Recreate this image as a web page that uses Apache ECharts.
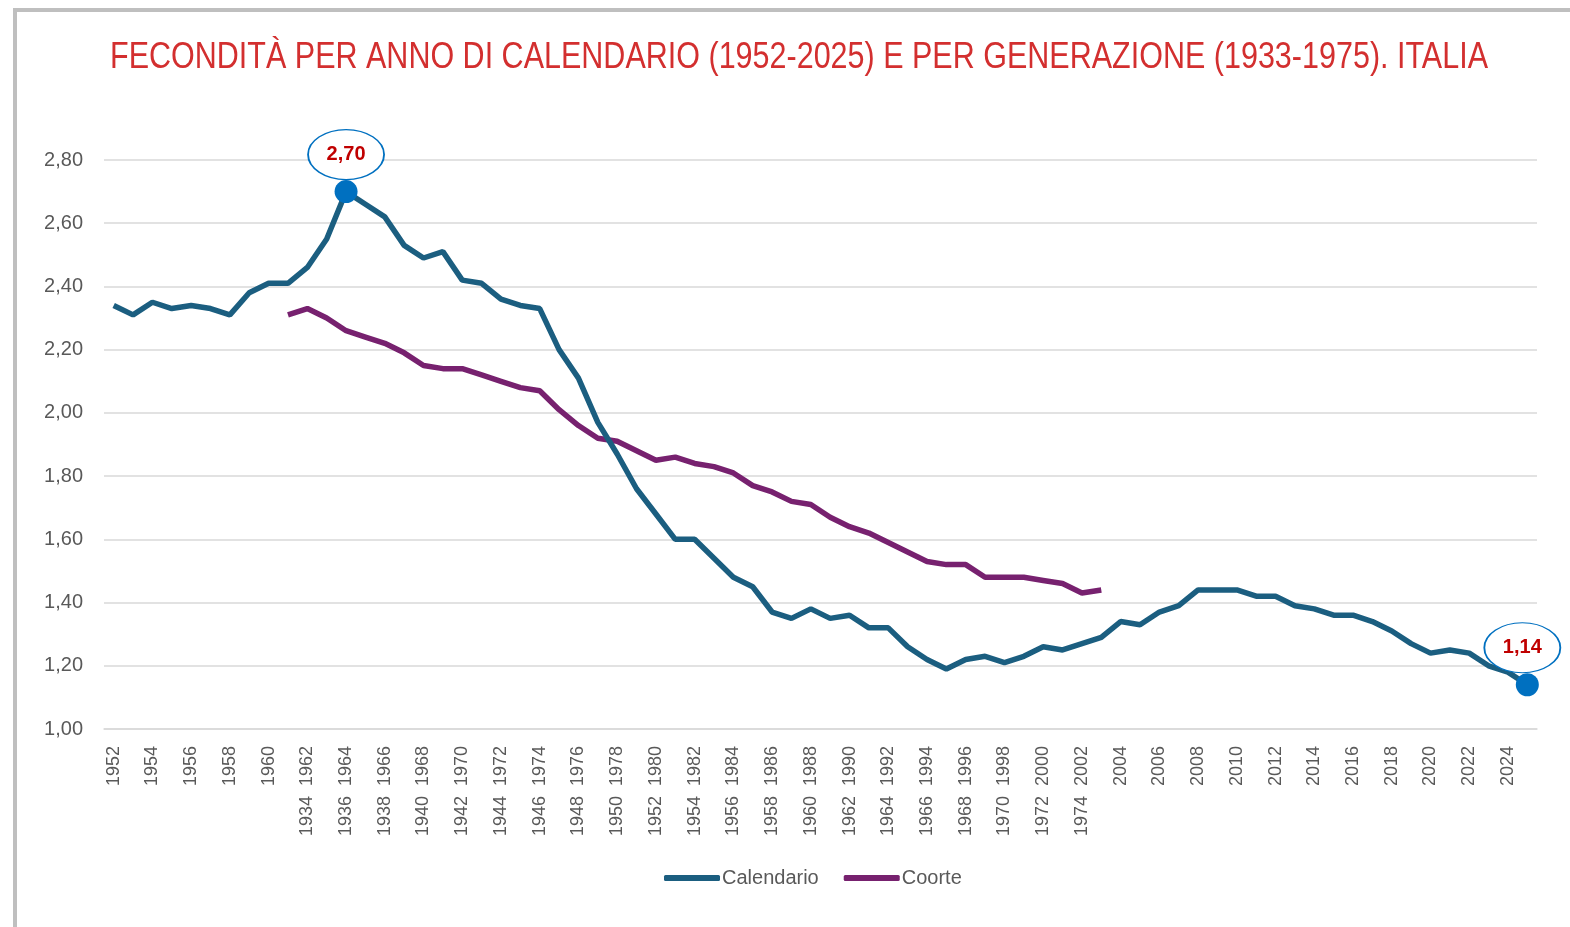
<!DOCTYPE html>
<html>
<head>
<meta charset="utf-8">
<script src="https://cdn.jsdelivr.net/npm/echarts@6/dist/echarts.min.js"></script>
<style>
  html, body { margin: 0; padding: 0; background: #fff; overflow: hidden; }
  #frame { position: absolute; left: 13px; top: 8px; width: 1600px; height: 960px; border: 4px solid #bfbfbf; box-sizing: border-box; }
  #chart { position: absolute; left: 0; top: 0; width: 1570px; height: 927px; }
</style>
</head>
<body>
<div id="frame"></div>
<div id="chart"></div>
<script>
// anni di calendario (asse x)
var years = [1952,1953,1954,1955,1956,1957,1958,1959,1960,1961,1962,1963,1964,1965,1966,1967,1968,1969,1970,1971,
    1972,1973,1974,1975,1976,1977,1978,1979,1980,1981,1982,1983,1984,1985,1986,1987,1988,1989,1990,1991,
    1992,1993,1994,1995,1996,1997,1998,1999,2000,2001,2002,2003,2004,2005,2006,2007,2008,2009,2010,2011,
    2012,2013,2014,2015,2016,2017,2018,2019,2020,2021,2022,2023,2024,2025];
var calendario = [2.34,2.31,2.35,2.33,2.34,2.33,2.31,2.38,2.41,2.41,2.46,2.55,2.70,2.66,2.62,2.53,2.49,2.51,2.42,2.41,
    2.36,2.34,2.33,2.20,2.11,1.97,1.87,1.76,1.68,1.60,1.60,1.54,1.48,1.45,1.37,1.35,1.38,1.35,1.36,1.32,
    1.32,1.26,1.22,1.19,1.22,1.23,1.21,1.23,1.26,1.25,1.27,1.29,1.34,1.33,1.37,1.39,1.44,1.44,1.44,1.42,
    1.42,1.39,1.38,1.36,1.36,1.34,1.31,1.27,1.24,1.25,1.24,1.20,1.18,1.14];
// generazioni 1933-1975, disegnate a partire dalla categoria 1961
var generazioni = [1933,1934,1935,1936,1937,1938,1939,1940,1941,1942,1943,1944,1945,1946,1947,1948,1949,1950,1951,1952,
    1953,1954,1955,1956,1957,1958,1959,1960,1961,1962,1963,1964,1965,1966,1967,1968,1969,1970,1971,1972,
    1973,1974,1975];
var coorte = [2.31,2.33,2.30,2.26,2.24,2.22,2.19,2.15,2.14,2.14,2.12,2.10,2.08,2.07,2.01,1.96,1.92,1.91,1.88,1.85,
    1.86,1.84,1.83,1.81,1.77,1.75,1.72,1.71,1.67,1.64,1.62,1.59,1.56,1.53,1.52,1.52,1.48,1.48,1.48,1.47,
    1.46,1.43,1.44];
var coorteStart = 9; // indice di 1961

var font = "'Liberation Sans',Arial,sans-serif";
var grigio = '#595959';
var titolo = 'FECONDITÀ PER ANNO DI CALENDARIO (1952-2025) E PER GENERAZIONE (1933-1975). ITALIA';

var coorteData = [];
var cohortLabel = {};
for (var i = 0; i < years.length; i++) {
    var k = i - coorteStart;
    coorteData.push(k >= 0 && k < coorte.length ? coorte[k] : null);
    if (k >= 0 && k < generazioni.length) cohortLabel[i] = generazioni[k];
}

// titolo stretto come un carattere "narrow"
var ctx = document.createElement('canvas').getContext('2d');
ctx.font = '37px ' + font;
var scalaTitolo = 1378 / ctx.measureText(titolo).width;

// punti evidenziati: massimo e ultimo anno
var iMax = calendario.indexOf(Math.max.apply(null, calendario));
var iLast = calendario.length - 1;
function fmt(v) { return v.toFixed(2).replace('.', ','); }
function evidenzia(idx, dx) {
    return [{
        coord: [idx, calendario[idx]],
        symbol: 'circle', symbolSize: 23,
        itemStyle: { color: '#0070c0', borderWidth: 0 },
        label: { show: false }
    }, {
        coord: [idx, calendario[idx]],
        symbol: 'circle', symbolSize: [76, 50], symbolOffset: [dx, -37],
        itemStyle: { color: '#ffffff', borderColor: '#0070c0', borderWidth: 1.5 },
        label: {
            show: true, position: 'inside',
            formatter: fmt(calendario[idx]),
            color: '#c00000', fontWeight: 'bold', fontSize: 20, fontFamily: font
        }
    }];
}

var myChart = echarts.init(document.getElementById('chart'));
var option = {
    animation: false,
    backgroundColor: 'transparent',
    graphic: [{
        type: 'text',
        x: 799, y: 58,
        scaleX: scalaTitolo,
        style: {
            text: titolo,
            fill: '#d32f2f', font: '37px ' + font,
            textAlign: 'center', textVerticalAlign: 'middle'
        }
    }],
    legend: {
        bottom: 34, left: 659,
        itemWidth: 56, itemHeight: 6, itemGap: 25,
        icon: 'roundRect',
        textStyle: { color: grigio, fontSize: 20, fontFamily: font, padding: [0, 0, 0, -3] },
        data: ['Calendario', 'Coorte']
    },
    grid: { left: 104, right: 33, top: 160, bottom: 198, containLabel: false },
    xAxis: {
        type: 'category',
        data: years,
        boundaryGap: true,
        axisLine: { show: true, lineStyle: { color: '#d9d9d9', width: 1.5 } },
        axisTick: { show: false },
        axisLabel: {
            interval: 1, rotate: 90, margin: 17,
            color: grigio, fontSize: 18, fontFamily: font,
            formatter: function (v, idx) {
                return cohortLabel[idx] !== undefined ? cohortLabel[idx] + '  ' + v : String(v);
            }
        }
    },
    yAxis: {
        type: 'value',
        min: 1, max: 2.8, interval: 0.2,
        axisLine: { show: false },
        axisTick: { show: false },
        splitLine: { lineStyle: { color: '#d9d9d9', width: 1.5 } },
        axisLabel: {
            margin: 21, color: grigio, fontSize: 20, fontFamily: font,
            formatter: function (v) { return fmt(v); }
        }
    },
    series: [{
        name: 'Calendario',
        type: 'line',
        data: calendario,
        showSymbol: false,
        symbol: 'none',
        lineStyle: { color: '#1b5e80', width: 5.5 },
        itemStyle: { color: '#1b5e80' },
        z: 3,
        markPoint: {
            animation: false,
            data: evidenzia(iMax, 0).concat(evidenzia(iLast, -5))
        }
    }, {
        name: 'Coorte',
        type: 'line',
        data: coorteData,
        showSymbol: false,
        symbol: 'none',
        connectNulls: false,
        lineStyle: { color: '#77216f', width: 5.5 },
        itemStyle: { color: '#77216f' },
        z: 2
    }]
};
myChart.setOption(option);
</script>
</body>
</html>
